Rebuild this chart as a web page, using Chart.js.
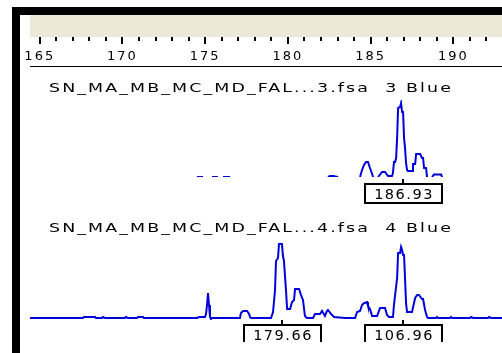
<!DOCTYPE html>
<html>
<head>
<meta charset="utf-8">
<title>Electropherogram</title>
<script src="https://cdn.jsdelivr.net/npm/chart.js@4.4.0/dist/chart.umd.min.js"></script>
<style>
body { margin:0; background:#fff; width:502px; height:353px; overflow:hidden; position:relative; }
.blk { position:absolute; background:#000; }
#beige { position:absolute; left:30px; top:15px; width:472px; height:22px; background:#ece9d8; }
#rule { position:absolute; left:30px; top:66px; width:472px; height:1px; background:#000; }
canvas { position:absolute; left:0; }
</style>
</head>
<body>
<div class="blk" style="left:12px;top:7px;width:490px;height:8px"></div>
<div class="blk" style="left:12px;top:7px;width:8px;height:346px"></div>
<div id="beige"></div>
<div id="rule"></div>
<canvas id="ruler" width="502" height="50" style="top:15px"></canvas>
<canvas id="panel1" width="502" height="139" style="top:66px"></canvas>
<canvas id="panel2" width="502" height="137" style="top:205px"></canvas>
<script>
// size range shown (bp)
var xMin = 164.41, xMax = 192.94;
var majorLabels = [165, 170, 175, 180, 185, 190];
var minorTicks = [165,166,167,168,169,170,171,172,173,174,175,176,177,178,179,180,181,182,183,184,185,186,187,188,189,190,191,192];

// sample 3 blue (null = not shown)
var title1 = "SN_MA_MB_MC_MD_FAL...3.fsa  3 Blue";
var sizes1 = [174.50,174.87,175.10,175.41,175.77,175.90,176.08,176.50,180.00,
  182.42,182.55,182.73,183.03,183.50,
  184.36,184.48,184.60,184.72,184.84,184.96,185.09,185.15,185.30,
  185.45,185.69,185.87,186.05,186.29,186.35,186.41,186.48,186.54,186.60,186.66,186.78,186.84,186.90,186.96,187.02,187.08,187.14,187.20,
  187.26,187.50,187.56,187.69,187.75,187.99,188.11,188.17,188.23,188.35,188.41,188.55,
  188.71,188.83,189.26,189.32];
var rfu1 = [0,0,null,0,0,null,0,0,null,
  0,25,25,0,null,
  0,175,300,375,375,225,75,0,null,
  0,125,125,25,25,100,375,375,475,975,1725,1750,1850,1625,1625,975,725,350,175,
  150,150,325,325,575,575,475,475,225,225,0,null,
  0,62,62,0];
var peaks1 = [186.93];
var peakText1 = ["186.93"];

// sample 4 blue
var title2 = "SN_MA_MB_MC_MD_FAL...4.fsa  4 Blue";
var sizes2 = [164.41,167.61,167.67,168.34,168.40,168.76,168.82,168.94,
  170.15,170.21,170.33,170.88,170.94,171.24,171.30,
  174.50,174.63,174.99,175.05,175.11,175.17,175.23,175.29,175.35,175.41,
  177.10,177.16,177.29,177.53,177.65,177.71,177.77,
  178.98,179.10,179.22,179.28,179.40,179.46,179.64,179.70,179.76,179.89,179.95,
  180.13,180.25,180.37,180.43,180.67,180.79,180.91,181.03,181.15,
  181.52,181.64,181.94,182.06,182.12,182.24,182.36,182.42,182.61,182.79,183.45,
  184.06,184.18,184.36,184.48,184.60,184.78,184.84,184.96,185.09,185.39,185.57,185.87,185.99,186.11,
  186.35,186.41,186.60,186.66,186.78,186.84,186.90,186.96,187.02,187.08,187.14,187.20,
  187.50,187.69,187.81,187.92,188.11,188.17,188.29,188.41,188.47,
  188.95,189.01,189.07,189.80,189.86,189.92,191.01,191.07,191.19,192.10,192.16,192.28,192.94];
var rfu2 = [0,0,25,25,0,0,25,0,
  0,25,0,0,25,25,0,
  0,25,25,100,325,625,325,25,-25,0,
  0,125,175,175,100,25,0,
  0,150,700,1425,1500,1850,1850,1550,1425,650,225,
  225,400,450,725,725,575,450,50,0,
  0,100,100,175,175,50,175,200,100,25,0,
  0,150,175,325,375,400,300,225,50,50,250,250,75,25,
  25,325,1000,1625,1625,1775,1700,1575,1575,975,375,150,
  150,500,575,575,475,475,200,25,0,
  0,25,0,0,25,0,0,25,0,0,25,0,0];
var peaks2 = [179.66, 186.96];
var peakText2 = ["179.66", "106.96"];

function points(xs, ys) {
  return xs.map(function(x, i) { return {x: x, y: ys[i]}; });
}

// ruler: short ticks every bp, longer every 5
var rulerMarks = {
  id: 'rulerMarks',
  beforeDraw: function(chart) { chart.ctx.letterSpacing = '2px'; },
  afterDraw: function(chart) {
    var s = chart.scales.x, ctx = chart.ctx;
    ctx.save();
    ctx.fillStyle = '#000';
    s.ticks.forEach(function(t) {
      var px = Math.round(s.getPixelForValue(t.value));
      var len = majorLabels.indexOf(t.value) >= 0 ? 7 : 4;
      ctx.fillRect(px - 1, s.top, 2, len);
    });
    ctx.restore();
  }
};

new Chart("ruler", {
  type: "line",
  data: { datasets: [] },
  plugins: [rulerMarks],
  options: {
    responsive: false,
    animation: false,
    layout: { padding: { left: 30, right: 0, top: 0, bottom: 0 } },
    plugins: { legend: { display: false }, tooltip: { enabled: false } },
    scales: {
      x: {
        type: "linear", min: xMin, max: xMax, position: "bottom",
        grid: { display: false }, border: { display: false },
        afterBuildTicks: function(s) { s.ticks = minorTicks.map(function(v) { return {value: v}; }); },
        afterFit: function(s) { s.height = 28; },
        ticks: {
          autoSkip: false, maxRotation: 0, padding: 4, color: "#000",
          font: { family: "DejaVu Sans", size: 13 },
          callback: function(v) { return majorLabels.indexOf(v) >= 0 ? String(v) : ""; }
        }
      },
      y: { display: false }
    }
  }
});

// title text + boxed size labels under each called peak
var panelDecor = {
  id: 'panelDecor',
  afterDraw: function(chart, args, opts) {
    var ctx = chart.ctx, xs = chart.scales.x, ys = chart.scales.y;
    ctx.save();
    ctx.fillStyle = '#000';
    ctx.font = '12.5px "DejaVu Sans"';
    ctx.textAlign = 'left';
    ctx.letterSpacing = '1.5px';
    // stretch the trace name wide like the old bitmap font
    var w = ctx.measureText(opts.title).width;
    ctx.save();
    ctx.translate(49, opts.titleY);
    ctx.scale(404 / w, 1);
    ctx.fillText(opts.title, 0, 0);
    ctx.restore();

    var base = Math.round(ys.getPixelForValue(0));
    opts.peaks.forEach(function(p, i) {
      var px = Math.round(xs.getPixelForValue(p));
      ctx.fillRect(px - 1, base + 2, 2, 5);
      ctx.lineWidth = 2;
      ctx.strokeStyle = '#000';
      ctx.strokeRect(px - 38, base + 7, 77, 19);
      ctx.font = '14.5px "DejaVu Sans"';
      ctx.textAlign = 'center';
      ctx.letterSpacing = '1.5px';
      ctx.fillText(opts.labels[i], px + 1, base + 22);
    });
    ctx.restore();
  }
};

function panel(id, xs, ys, yMin, yMax, padTop, padBottom, title, titleY, peaks, labels) {
  return new Chart(id, {
    type: "line",
    data: {
      datasets: [{
        data: points(xs, ys),
        borderColor: "#0000dd",
        borderWidth: 2,
        pointRadius: 0,
        tension: 0,
        fill: false,
        spanGaps: false
      }]
    },
    plugins: [panelDecor],
    options: {
      responsive: false,
      animation: false,
      layout: { padding: { left: 30, right: 0, top: padTop, bottom: padBottom } },
      plugins: {
        legend: { display: false },
        tooltip: { enabled: false },
        panelDecor: { title: title, titleY: titleY, peaks: peaks, labels: labels }
      },
      scales: {
        x: { type: "linear", min: xMin, max: xMax, display: false },
        y: { min: yMin, max: yMax, display: false }
      }
    }
  });
}

panel("panel1", sizes1, rfu1, 0, 1925, 34, 28, title1, 26, peaks1, peakText1);
panel("panel2", sizes2, rfu2, -50, 1950, 35, 22, title2, 27, peaks2, peakText2);
</script>
</body>
</html>
